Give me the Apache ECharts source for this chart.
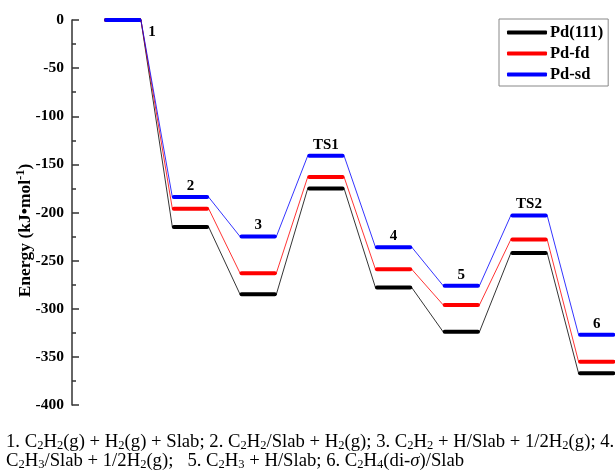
<!DOCTYPE html>
<html><head><meta charset="utf-8">
<script src="https://cdn.jsdelivr.net/npm/echarts@6/dist/echarts.min.js"></script>
<style>html,body{margin:0;padding:0;background:#fff}#c{width:615px;height:471px}</style>
</head><body><div id="c"></div>
<script>
const states = ['1', '2', '3', 'TS1', '4', '5', 'TS2', '6'];
const pd111 = [0, -215, -285, -175, -278, -324, -242, -367];
const pdFd = [0, -196, -263, -163, -259, -296, -228, -355];
const pdSd = [0, -184, -225, -141, -236, -276, -203, -327];
const seriesNames = ['Pd(111)', 'Pd-fd', 'Pd-sd'];
const seriesValues = [pd111, pdFd, pdSd];
const colors = ['#000000', '#ff0000', '#0000ff'];
const captionLine1 = '1. C{s|2}H{s|2}(g) + H{s|2}(g) + Slab; 2. C{s|2}H{s|2}/Slab + H{s|2}(g); 3. C{s|2}H{s|2} + H/Slab + 1/2H{s|2}(g); 4.';
const captionLine2 = 'C{s|2}H{s|3}/Slab + 1/2H{s|2}(g);   5. C{s|2}H{s|3} + H/Slab; 6. C{s|2}H{s|4}(di-{i|σ})/Slab';

const HW = 0.268;
const FONT = 'Liberation Serif, Times New Roman, serif';

const series = [];
seriesValues.forEach((vals, k) => {
  const pts = [];
  vals.forEach((v, i) => { pts.push([i - HW, v]); pts.push([i + HW, v]); });
  series.push({
    name: seriesNames[k], type: 'line', data: pts, symbol: 'none',
    lineStyle: { color: colors[k], width: 0.8 }, color: colors[k], z: 2, silent: true
  });
});
seriesValues.forEach((vals, k) => {
  series.push({
    name: seriesNames[k], type: 'custom', color: colors[k], z: 3,
    data: vals.map((v, i) => [i, v]),
    encode: { x: 0, y: 1 },
    renderItem: function (params, api) {
      const i = api.value(0), v = api.value(1);
      const a = api.coord([i - HW, v]), b = api.coord([i + HW, v]);
      return { type: 'line', shape: { x1: a[0] + 1.5, y1: a[1], x2: b[0] - 1.5, y2: b[1] },
        style: { stroke: colors[k], lineWidth: 4, lineCap: 'round' } };
    }
  });
});
series.push({
  name: 'labels', type: 'custom', z: 4,
  data: pdSd.map((v, i) => [i, v, states[i]]),
  encode: { x: 0, y: 1 },
  renderItem: function (params, api) {
    const i = api.value(0), v = api.value(1);
    const lbl = states[params.dataIndex];
    let p;
    if (params.dataIndex === 0) {
      const e = api.coord([i + HW, v]);
      p = [e[0] + 11, e[1] + 12];
    } else {
      const c = api.coord([i, v]);
      p = [c[0], c[1] - 11];
    }
    return { type: 'text', x: p[0], y: p[1],
      style: { text: lbl, fill: '#000', font: 'bold 15px ' + FONT, align: 'center', verticalAlign: 'middle' } };
  }
});

const subRich = {
  s: { fontFamily: FONT, fontSize: 12.5, lineHeight: 12, padding: [7, 0, 0, 0], fill: '#000' },
  i: { fontFamily: FONT, fontSize: 18.7, fontStyle: 'italic', fill: '#000' }
};

const chart = echarts.init(document.getElementById('c'), null, { renderer: 'canvas' });
chart.setOption({
  animation: false,
  backgroundColor: '#fff',
  grid: { left: 72, right: 0, top: 20, bottom: 66, containLabel: false, outerBoundsMode: 'none' },
  xAxis: { type: 'value', min: -0.75, max: 7.27, show: false },
  yAxis: {
    type: 'value', min: -400, max: 0, interval: 50,
    name: 'Energy (kJ•mol{sup|-1})', nameLocation: 'middle', nameGap: 35, nameMoveOverlap: false,
    nameTextStyle: { fontFamily: FONT, fontWeight: 'bold', fontSize: 17.5, color: '#000', padding: [0, 36, 0, 0],
      rich: { sup: { fontFamily: FONT, fontWeight: 'bold', fontSize: 12.5, color: '#000', padding: [0, 0, 10, 0] } } },
    axisLine: { show: true, onZero: false, lineStyle: { color: '#333', width: 1.5 } },
    axisTick: { show: true, inside: true, length: 7, lineStyle: { color: '#333', width: 1.5 } },
    minorTick: { show: true, splitNumber: 2, length: 4, lineStyle: { color: '#333', width: 1.5 } },
    axisLabel: { fontFamily: FONT, fontWeight: 'bold', fontSize: 15.5, color: '#000', margin: 8 },
    splitLine: { show: false }
  },
  legend: {
    orient: 'vertical', left: 499, top: 19,
    data: seriesNames.map((n, k) => ({ name: n, itemStyle: { color: colors[k] } })),
    icon: 'roundRect', itemWidth: 40, itemHeight: 4, itemGap: 4,
    padding: [5, 5, 3, 8], borderColor: '#888', borderWidth: 1,
    textStyle: { fontFamily: FONT, fontWeight: 'bold', fontSize: 16.5, color: '#000', lineHeight: 16, padding: [0, 0, 0, -2] },
    selectedMode: false
  },
  graphic: [
    { type: 'text', left: 6, top: 432,
      style: { text: captionLine1, font: '18.7px ' + FONT, fill: '#000', rich: subRich } },
    { type: 'text', left: 6, top: 451,
      style: { text: captionLine2, font: '18.7px ' + FONT, fill: '#000', rich: subRich } }
  ],
  series: series
});
</script></body></html>
